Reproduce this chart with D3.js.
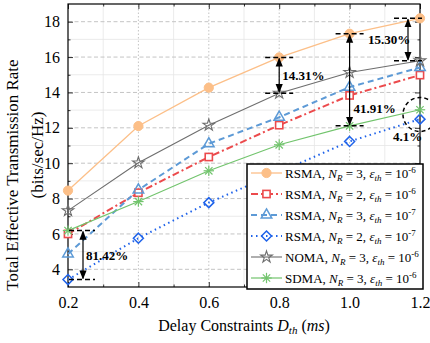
<!DOCTYPE html>
<html>
<head>
<meta charset="utf-8">
<script src="https://cdn.jsdelivr.net/npm/d3@7"></script>
<style>
  body { margin: 0; background: #fff; }
  text { font-family: "Liberation Serif", "DejaVu Serif", serif; }
</style>
</head>
<body>
<svg id="chart" width="430" height="343"></svg>
<script>
// delay constraint D_th (ms)
const delays = [0.2, 0.4, 0.6, 0.8, 1.0, 1.2];
const xTicks = [0.2, 0.4, 0.6, 0.8, 1.0, 1.2];
const yTicks = [4, 6, 8, 10, 12, 14, 16, 18];

const rsmaN3e6 = [8.45, 12.1, 14.27, 15.98, 17.32, 18.19];
const rsmaN2e6 = [6.0, 8.33, 10.35, 12.15, 13.83, 14.98];
const rsmaN3e7 = [4.87, 8.49, 11.1, 12.6, 14.3, 15.41];
const rsmaN2e7 = [3.42, 5.76, 7.77, 9.5, 11.23, 12.49];
const nomaN3e6 = [7.32, 10.02, 12.15, 13.96, 15.13, 15.79];
const sdmaN3e6 = [6.19, 7.83, 9.57, 11.04, 12.11, 13.02];

// gain annotations
const gainLabels = ["81.42%", "14.31%", "41.91%", "15.30%"];
const gainX = [0.2, 0.8, 1.0, 1.2];
const gainTop = [6.19, 15.98, 17.32, 18.19];
const gainBottom = [3.42, 13.96, 12.11, 15.79];

const svg = d3.select("#chart");
const margin = {top: 4, right: 10, bottom: 56, left: 68};
const W = 430, H = 343;
const x = d3.scaleLinear().domain([0.2, 1.2]).range([margin.left, W - margin.right]);
const y = d3.scaleLinear().domain([3, 19]).range([H - margin.bottom, margin.top]);
const x0 = x.range()[0], x1 = x.range()[1], y0 = y.range()[0], y1 = y.range()[1];

const defs = svg.append("defs");
defs.append("marker").attr("id", "ah").attr("viewBox", "0 0 10 10")
  .attr("refX", 9).attr("refY", 5).attr("markerWidth", 7.5).attr("markerHeight", 7.5)
  .attr("orient", "auto-start-reverse")
  .append("path").attr("d", "M0,1 L10,5 L0,9 Z").attr("fill", "#000");

// grid
const g = svg.append("g");
const minorY = d3.range(5, 19, 2);
const minorX = [0.3, 0.5, 0.7, 0.9, 1.1];
g.selectAll(".my").data(minorY).enter().append("line")
  .attr("x1", x0).attr("x2", x1).attr("y1", d => y(d)).attr("y2", d => y(d))
  .attr("stroke", "#e6e6e6").attr("stroke-width", 0.8);
g.selectAll(".mx").data(minorX).enter().append("line")
  .attr("y1", y0).attr("y2", y1).attr("x1", d => x(d)).attr("x2", d => x(d))
  .attr("stroke", "#e6e6e6").attr("stroke-width", 0.8);
g.selectAll(".gy").data(yTicks).enter().append("line")
  .attr("x1", x0).attr("x2", x1).attr("y1", d => y(d)).attr("y2", d => y(d))
  .attr("stroke", "#c4c4c4").attr("stroke-width", 1).attr("stroke-dasharray", "4,2.5");
g.selectAll(".gx").data(xTicks.slice(1, -1)).enter().append("line")
  .attr("y1", y0).attr("y2", y1).attr("x1", d => x(d)).attr("x2", d => x(d))
  .attr("stroke", "#c4c4c4").attr("stroke-width", 1).attr("stroke-dasharray", "1.5,2");

// axes with inward ticks on all four sides
const fmt = d3.format(".1f");
svg.append("g").attr("transform", `translate(0,${y0})`)
  .call(d3.axisBottom(x).tickValues(xTicks).tickFormat(fmt).tickSizeInner(-5).tickSizeOuter(0).tickPadding(10));
svg.append("g").attr("transform", `translate(0,${y0})`)
  .call(d3.axisBottom(x).tickValues(minorX).tickFormat("").tickSizeInner(-2.5).tickSizeOuter(0));
svg.append("g").attr("transform", `translate(0,${y1})`)
  .call(d3.axisTop(x).tickValues(xTicks).tickFormat("").tickSizeInner(-5).tickSizeOuter(0));
svg.append("g").attr("transform", `translate(0,${y1})`)
  .call(d3.axisTop(x).tickValues(minorX).tickFormat("").tickSizeInner(-2.5).tickSizeOuter(0));
svg.append("g").attr("transform", `translate(${x0},0)`)
  .call(d3.axisLeft(y).tickValues(yTicks).tickSizeInner(-5).tickSizeOuter(0).tickPadding(8));
svg.append("g").attr("transform", `translate(${x0},0)`)
  .call(d3.axisLeft(y).tickValues(minorY).tickFormat("").tickSizeInner(-2.5).tickSizeOuter(0));
svg.append("g").attr("transform", `translate(${x1},0)`)
  .call(d3.axisRight(y).tickValues(yTicks).tickFormat("").tickSizeInner(-5).tickSizeOuter(0));
svg.append("g").attr("transform", `translate(${x1},0)`)
  .call(d3.axisRight(y).tickValues(minorY).tickFormat("").tickSizeInner(-2.5).tickSizeOuter(0));
svg.selectAll(".domain").remove();
svg.selectAll(".tick line").attr("stroke", "#000").attr("stroke-width", 0.8);
svg.selectAll(".tick text").attr("font-family", "Liberation Serif").attr("font-size", 16).attr("fill", "#000");

svg.append("rect").attr("x", x0).attr("y", y1).attr("width", x1 - x0).attr("height", y0 - y1)
  .attr("fill", "none").attr("stroke", "#000").attr("stroke-width", 1.2);

// series
const series = [
  {name: "RSMA", n: 3, e: "-6", vals: rsmaN3e6, color: "#fcbf88", width: 1.3, dash: null, marker: "circle"},
  {name: "RSMA", n: 2, e: "-6", vals: rsmaN2e6, color: "#ec4a4c", width: 2, dash: "7,3,2,3", marker: "square"},
  {name: "RSMA", n: 3, e: "-7", vals: rsmaN3e7, color: "#5d9ad6", width: 2, dash: "6,4", marker: "triangle"},
  {name: "RSMA", n: 2, e: "-7", vals: rsmaN2e7, color: "#1f63ea", width: 2, dash: "1.5,3.5", marker: "diamond"},
  {name: "NOMA", n: 3, e: "-6", vals: nomaN3e6, color: "#6e6e6e", width: 1.1, dash: null, marker: "star"},
  {name: "SDMA", n: 3, e: "-6", vals: sdmaN3e6, color: "#72c46d", width: 1.2, dash: null, marker: "asterisk"}
];

function drawMarker(sel, type, color) {
  if (type === "circle") {
    sel.append("circle").attr("r", 4.6).attr("fill", color).attr("stroke", color);
  } else if (type === "square") {
    sel.append("rect").attr("x", -3.6).attr("y", -3.6).attr("width", 7.2).attr("height", 7.2)
      .attr("fill", "#fff").attr("stroke", color).attr("stroke-width", 1.6);
  } else if (type === "triangle") {
    sel.append("path").attr("d", d3.symbol(d3.symbolTriangle, 48)())
      .attr("fill", "none").attr("stroke", color).attr("stroke-width", 1.5);
  } else if (type === "diamond") {
    sel.append("path").attr("d", "M0,-5 L5,0 L0,5 L-5,0 Z")
      .attr("fill", "none").attr("stroke", color).attr("stroke-width", 1.5);
  } else if (type === "star") {
    sel.append("path").attr("d", d3.symbol(d3.symbolStar, 42)())
      .attr("fill", "none").attr("stroke", color).attr("stroke-width", 1.1);
  } else if (type === "asterisk") {
    const r = 5.2;
    [0, 45, 90, 135].forEach(a => {
      const t = a * Math.PI / 180;
      sel.append("line").attr("x1", -r * Math.cos(t)).attr("y1", -r * Math.sin(t))
        .attr("x2", r * Math.cos(t)).attr("y2", r * Math.sin(t))
        .attr("stroke", color).attr("stroke-width", 1.2);
    });
  }
}

const plot = svg.append("g");
const line = d3.line().x((d, i) => x(delays[i])).y(d => y(d));
series.forEach(s => {
  plot.append("path").datum(s.vals).attr("d", line)
    .attr("fill", "none").attr("stroke", s.color).attr("stroke-width", s.width)
    .attr("stroke-dasharray", s.dash);
});
series.forEach(s => {
  s.vals.forEach((v, i) => {
    const m = plot.append("g").attr("transform", `translate(${x(delays[i])},${y(v)})`);
    drawMarker(m, s.marker, s.color);
  });
});

// gain annotations
const ann = svg.append("g");
const arrowDx = [15, 0, 0, -12];
const dashHalf = [13, 14, 14, 14];
const textPos = [[3, 0], [3, 0], [4, 29], [-40, 0]];
gainLabels.forEach((lab, i) => {
  const ax = x(gainX[i]) + arrowDx[i];
  const cx = i === 0 ? ax - 1 : ax;
  [gainTop[i], gainBottom[i]].forEach(v => {
    ann.append("line").attr("x1", cx - dashHalf[i]).attr("x2", cx + dashHalf[i])
      .attr("y1", y(v)).attr("y2", y(v))
      .attr("stroke", "#000").attr("stroke-width", 1.5).attr("stroke-dasharray", "5,3");
  });
  ann.append("line").attr("x1", ax).attr("x2", ax)
    .attr("y1", y(gainTop[i]) + 1).attr("y2", y(gainBottom[i]) - 1)
    .attr("stroke", "#000").attr("stroke-width", 1.2)
    .attr("marker-start", "url(#ah)").attr("marker-end", "url(#ah)");
  const midY = (y(gainTop[i]) + y(gainBottom[i])) / 2;
  ann.append("text").attr("x", ax + textPos[i][0]).attr("y", midY + textPos[i][1])
    .attr("dy", "0.35em").attr("font-size", 13).attr("font-weight", "bold").text(lab);
});
// 4.1% circle
const cY = (y(sdmaN3e6[5]) + y(rsmaN2e7[5])) / 2;
ann.append("circle").attr("cx", x(1.2)).attr("cy", cY).attr("r", 17)
  .attr("fill", "none").attr("stroke", "#000").attr("stroke-width", 1.5).attr("stroke-dasharray", "4,3");
ann.append("text").attr("x", x(1.2) - 27).attr("y", cY + 22).attr("dy", "0.35em")
  .attr("font-size", 13).attr("font-weight", "bold").text("4.1%");

// legend
const lg = svg.append("g");
lg.append("rect").attr("x", 247).attr("y", 164).attr("width", 176).attr("height", 125)
  .attr("fill", "#fff").attr("stroke", "#000").attr("stroke-width", 1.5);
series.forEach((s, i) => {
  const ly = 173 + i * 21;
  const row = lg.append("g");
  row.append("line").attr("x1", 251).attr("x2", 282).attr("y1", ly).attr("y2", ly)
    .attr("stroke", s.color).attr("stroke-width", s.width).attr("stroke-dasharray", s.dash);
  drawMarker(row.append("g").attr("transform", `translate(266.5,${ly})`), s.marker, s.color);
  const t = row.append("text").attr("x", 285).attr("y", ly).attr("dy", "0.35em").attr("font-size", 13);
  t.append("tspan").text(s.name + ", ");
  t.append("tspan").attr("font-style", "italic").text("N");
  t.append("tspan").attr("font-style", "italic").attr("font-size", 9).attr("dy", 3).text("R");
  t.append("tspan").attr("dy", -3).text(` = ${s.n}, `);
  t.append("tspan").attr("font-style", "italic").text("ε");
  t.append("tspan").attr("font-style", "italic").attr("font-size", 9).attr("dy", 3).text("th");
  t.append("tspan").attr("dy", -3).text(" = 10");
  t.append("tspan").attr("font-size", 9).attr("dy", -5).text(s.e);
});

// axis labels
const xl = svg.append("text").attr("x", (x0 + x1) / 2).attr("y", 331)
  .attr("text-anchor", "middle").attr("font-size", 16);
xl.append("tspan").text("Delay Constraints ");
xl.append("tspan").attr("font-style", "italic").text("D");
xl.append("tspan").attr("font-style", "italic").attr("font-size", 11).attr("dy", 3).text("th");
xl.append("tspan").attr("dy", -3).text(" (");
xl.append("tspan").attr("font-style", "italic").text("ms");
xl.append("tspan").text(")");

svg.append("text").attr("transform", "translate(18,175) rotate(-90)")
  .attr("text-anchor", "middle").attr("font-size", 17).text("Total Effective Transmission Rate");
svg.append("text").attr("transform", "translate(43,155) rotate(-90)")
  .attr("text-anchor", "middle").attr("font-size", 17).text("(bits/sec/Hz)");
</script>
</body>
</html>
